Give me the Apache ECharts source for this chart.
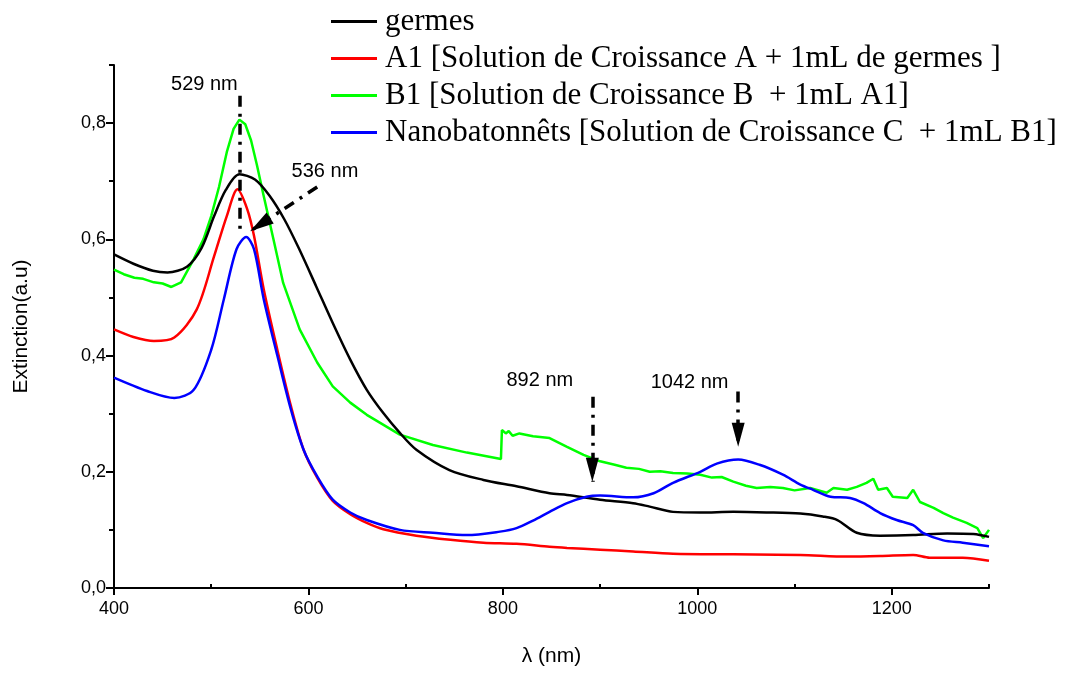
<!DOCTYPE html>
<html>
<head>
<meta charset="utf-8">
<script src="https://cdn.jsdelivr.net/npm/echarts@6/dist/echarts.min.js"></script>
<style>
  html, body { margin: 0; padding: 0; background: #fff; }
  #chart { width: 1071px; height: 673px; }
</style>
</head>
<body>
<div id="chart"></div>
<script>
// spectra: [wavelength nm, extinction]
const germes = [[400,0.574],[420,0.558],[440,0.546],[455,0.543],[475,0.553],[490,0.585],[503,0.64],[515,0.685],[529,0.712],[545,0.703],[560,0.675],[575,0.635],[590,0.585],[608,0.519],[625,0.456],[643,0.393],[660,0.341],[677,0.301],[694,0.267],[711,0.238],[745,0.203],[780,0.186],[814,0.175],[848,0.163],[866,0.160],[900,0.152],[934,0.146],[951,0.140],[975,0.131],[1003,0.130],[1037,0.131],[1071,0.130],[1106,0.128],[1129,0.123],[1144,0.117],[1164,0.095],[1188,0.090],[1222,0.091],[1257,0.094],[1284,0.093],[1300,0.088]];
const a1 = [[400,0.445],[420,0.432],[441,0.425],[462,0.431],[485,0.479],[503,0.571],[516,0.640],[527,0.686],[537,0.652],[544,0.606],[554,0.514],[568,0.41],[582,0.313],[595,0.238],[609,0.190],[625,0.150],[643,0.127],[660,0.112],[677,0.101],[711,0.090],[746,0.083],[780,0.078],[814,0.076],[848,0.071],[866,0.069],[900,0.066],[934,0.063],[975,0.059],[1037,0.058],[1106,0.057],[1154,0.054],[1188,0.055],[1222,0.057],[1239,0.052],[1273,0.052],[1300,0.047]];
const b1 = [[400,0.548],[410,0.540],[421,0.534],[430,0.532],[441,0.526],[450,0.524],[459,0.518],[469,0.526],[482,0.566],[492,0.600],[500,0.64],[508,0.69],[516,0.750],[523,0.790],[529,0.806],[535,0.798],[541,0.770],[547,0.728],[553,0.682],[564,0.600],[574,0.525],[591,0.445],[609,0.388],[625,0.347],[643,0.319],[660,0.298],[694,0.264],[728,0.246],[763,0.233],[798,0.222],[799,0.272],[803,0.266],[806,0.270],[810,0.262],[817,0.266],[831,0.261],[848,0.258],[866,0.243],[883,0.229],[900,0.218],[915,0.212],[927,0.207],[940,0.205],[951,0.20],[962,0.201],[975,0.198],[990,0.197],[1003,0.195],[1015,0.19],[1025,0.191],[1037,0.183],[1050,0.176],[1061,0.172],[1075,0.174],[1088,0.172],[1100,0.168],[1116,0.172],[1133,0.164],[1140,0.172],[1154,0.169],[1164,0.174],[1174,0.181],[1181,0.188],[1186,0.169],[1195,0.172],[1201,0.157],[1216,0.155],[1222,0.169],[1229,0.148],[1243,0.138],[1253,0.129],[1263,0.121],[1277,0.112],[1288,0.103],[1294,0.086],[1300,0.10]];
const nano = [[400,0.362],[434,0.339],[462,0.327],[482,0.341],[500,0.41],[513,0.497],[526,0.583],[536,0.604],[544,0.583],[554,0.497],[568,0.40],[582,0.307],[595,0.238],[609,0.192],[625,0.152],[643,0.130],[660,0.117],[694,0.10],[728,0.095],[763,0.091],[797,0.097],[814,0.103],[831,0.116],[848,0.131],[866,0.146],[886,0.157],[900,0.159],[934,0.156],[955,0.163],[975,0.181],[1003,0.20],[1020,0.214],[1042,0.221],[1064,0.212],[1088,0.195],[1106,0.178],[1119,0.169],[1137,0.157],[1157,0.155],[1171,0.146],[1188,0.129],[1205,0.117],[1222,0.108],[1232,0.095],[1253,0.082],[1273,0.078],[1300,0.072]];

const names = [
  'germes',
  'A1 [Solution de Croissance A + 1mL de germes ]',
  'B1 [Solution de Croissance B  + 1mL A1]',
  'Nanobatonnêts [Solution de Croissance C  + 1mL B1]'
];
const colors = ['#000000', '#ff0000', '#00ff00', '#0000ff'];

const xMajor = [400, 600, 800, 1000, 1200];
const xMinor = [500, 700, 900, 1100, 1300];
const yMajor = [0, 0.2, 0.4, 0.6, 0.8];
const yMinor = [0.1, 0.3, 0.5, 0.7, 0.9];

// peak markers: [from, to]
const markerLines = [
  { from: [529, 0.847], to: [529, 0.612], arrow: false },
  { from: [609, 0.690], to: [540, 0.614], arrow: true },
  { from: [892, 0.329], to: [892, 0.183], arrow: true },
  { from: [1042, 0.338], to: [1042, 0.243], arrow: true }
];
const markerTexts = [
  { name: '529 nm', coord: [493, 0.867] },
  { name: '536 nm', coord: [617, 0.716] },
  { name: '892 nm', coord: [838, 0.357] },
  { name: '1042 nm', coord: [992, 0.353] }
];

const chart = echarts.init(document.getElementById('chart'));
const sansFont = 'Liberation Sans, Arial, sans-serif';

const axisBase = {
  axisLine: { show: true, lineStyle: { color: '#000', width: 2 } },
  splitLine: { show: false }
};

chart.setOption({
  animation: false,
  backgroundColor: '#fff',
  grid: { left: 114, right: 82, top: 65, bottom: 85 },
  legend: {
    orient: 'vertical',
    left: 326,
    top: 1,
    itemWidth: 46,
    itemHeight: 3,
    itemGap: 6,
    icon: 'rect',
    data: names,
    textStyle: { fontFamily: 'Liberation Serif, Times New Roman, serif', fontSize: 31, color: '#000', padding: [0, 0, 0, 3] }
  },
  xAxis: [
    Object.assign({}, axisBase, {
      type: 'value', min: 400, max: 1300,
      name: 'λ (nm)', nameLocation: 'middle', nameGap: 58,
      nameTextStyle: { fontFamily: sansFont, fontSize: 21, color: '#000' },
      axisTick: { show: true, length: 7, lineStyle: { color: '#000', width: 2 }, customValues: xMajor },
      axisLabel: { fontFamily: sansFont, fontSize: 18, color: '#000', margin: 12, customValues: xMajor, formatter: v => String(v) }
    }),
    Object.assign({}, axisBase, {
      type: 'value', min: 400, max: 1300,
      axisLine: { show: false },
      axisTick: { show: true, length: 4, lineStyle: { color: '#000', width: 2 }, customValues: xMinor },
      axisLabel: { show: false }
    })
  ],
  yAxis: [
    Object.assign({}, axisBase, {
      type: 'value', min: 0, max: 0.9,
      name: 'Extinction(a.u)', nameLocation: 'middle', nameGap: 82, nameRotate: 90,
      nameTextStyle: { fontFamily: sansFont, fontSize: 21, color: '#000' },
      axisTick: { show: true, length: 8, lineStyle: { color: '#000', width: 2 }, customValues: yMajor },
      axisLabel: {
        fontFamily: sansFont, fontSize: 18, color: '#000', margin: 8, customValues: yMajor,
        formatter: v => v.toFixed(1).replace('.', ',')
      }
    }),
    Object.assign({}, axisBase, {
      type: 'value', min: 0, max: 0.9,
      position: 'left',
      axisLine: { show: false },
      axisTick: { show: true, length: 5, lineStyle: { color: '#000', width: 2 }, customValues: yMinor },
      axisLabel: { show: false }
    })
  ],
  series: [germes, a1, b1, nano].map((d, i) => ({
    name: names[i],
    type: 'line',
    data: d,
    smooth: i === 2 ? false : 0.3,
    showSymbol: false,
    color: colors[i],
    lineStyle: { width: 2.5, color: colors[i] },
    z: i === 2 ? 2 : 3
  })).concat([{
    name: 'markers',
    type: 'line',
    data: [],
    silent: true,
    markLine: {
      silent: true,
      animation: false,
      label: { show: false },
      lineStyle: { color: '#000', width: 3.5, type: [11, 7, 3, 7] },
      data: markerLines.map(m => [
        { coord: m.from, symbol: 'none' },
        { coord: m.to, symbol: m.arrow ? 'triangle' : 'none', symbolSize: [13, 24], symbolOffset: [0, 12] }
      ])
    },
    markPoint: {
      silent: true,
      animation: false,
      symbol: 'circle',
      symbolSize: 1,
      itemStyle: { color: 'rgba(0,0,0,0)' },
      label: { show: true, position: 'inside', fontFamily: sansFont, fontSize: 20, color: '#000', formatter: p => p.name },
      data: markerTexts
    }
  }])
});
</script>
</body>
</html>
